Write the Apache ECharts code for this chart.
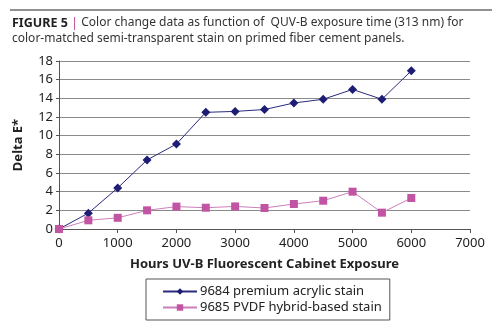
<!DOCTYPE html>
<html>
<head>
<meta charset="utf-8">
<script src="https://cdn.jsdelivr.net/npm/echarts@6/dist/echarts.min.js"></script>
<style>
  html, body { margin: 0; padding: 0; background: #fff; }
  #chart { width: 500px; height: 330px; }
</style>
</head>
<body>
<div id="chart"></div>
<script>
// Exposure hours (x) and Delta E* colour change for each stain
const hours = [0, 500, 1000, 1500, 2000, 2500, 3000, 3500, 4000, 4500, 5000, 5500, 6000];
const acrylic = [0, 1.7, 4.4, 7.4, 9.1, 12.5, 12.6, 12.8, 13.5, 13.9, 14.95, 13.9, 16.95];
const pvdf = [0, 0.93, 1.2, 2.0, 2.4, 2.28, 2.42, 2.25, 2.68, 3.03, 4.0, 1.75, 3.32];
const seriesNames = ['9684 premium acrylic stain', '9685 PVDF hybrid-based stain'];

const pair = (xs, ys) => xs.map((x, i) => [x, ys[i]]);

const font = 'Noto Sans';
const chart = echarts.init(document.getElementById('chart'));
chart.setOption({
  animation: false,
  backgroundColor: '#fff',
  textStyle: { fontFamily: font },
  graphic: [
    { type: 'line', shape: { x1: 10, y1: 10, x2: 492, y2: 10 }, style: { stroke: '#222', lineWidth: 1 } },
    {
      type: 'text', left: 12, top: 15,
      style: {
        text: '{b|FIGURE 5} {p||} Color change data as function of  QUV-B exposure time (313 nm) for\ncolor-matched semi-transparent stain on primed fiber cement panels.',
        fontFamily: font, fontSize: 12, fill: '#333', lineHeight: 16,
        rich: {
          b: { fontWeight: 'bold', fontSize: 12.5, fill: '#222', fontFamily: font },
          p: { fill: '#c04a98', fontSize: 13, fontFamily: font }
        }
      }
    }
  ],
  grid: { left: 59, right: 30, top: 61, bottom: 101 },
  xAxis: {
    type: 'value', min: 0, max: 7000, interval: 1000,
    name: 'Hours UV-B Fluorescent Cabinet Exposure',
    nameLocation: 'middle', nameGap: 29,
    nameTextStyle: { fontWeight: 'bold', fontSize: 13, color: '#222', fontFamily: font },
    axisLine: { lineStyle: { color: '#555' } },
    axisTick: { show: true, length: 4, lineStyle: { color: '#555' } },
    axisLabel: { fontSize: 13, color: '#222', margin: 8, formatter: v => String(v) },
    splitLine: { show: false }
  },
  yAxis: {
    type: 'value', min: 0, max: 18, interval: 2,
    name: 'Delta E*', nameLocation: 'middle', nameGap: 34, nameRotate: 90,
    nameTextStyle: { fontWeight: 'bold', fontSize: 13, color: '#222', fontFamily: font },
    axisLine: { show: true, lineStyle: { color: '#555' } },
    axisTick: { show: true, length: 3, lineStyle: { color: '#555' } },
    axisLabel: { fontSize: 13, color: '#222', margin: 6 },
    splitLine: { lineStyle: { color: '#8a8a8a', width: 1 } }
  },
  legend: {
    orient: 'vertical', left: 146, top: 279,
    width: 238,
    padding: [6, 8, 6, 16],
    itemGap: 3, itemWidth: 34, itemHeight: 8,
    borderColor: '#555', borderWidth: 1,
    textStyle: { fontSize: 13, color: '#222', fontFamily: font, padding: [0, 0, 0, -2] },
    data: seriesNames
  },
  series: [
    {
      name: seriesNames[0], type: 'line', data: pair(hours, acrylic),
      symbol: 'diamond', symbolSize: 9,
      lineStyle: { color: '#2a2a80', width: 1 },
      itemStyle: { color: '#1d1d74' }
    },
    {
      name: seriesNames[1], type: 'line', data: pair(hours, pvdf),
      symbol: 'rect', symbolSize: 8,
      lineStyle: { color: '#cc7fbb', width: 1 },
      itemStyle: { color: '#c255a3' }
    }
  ]
});
</script>
</body>
</html>
